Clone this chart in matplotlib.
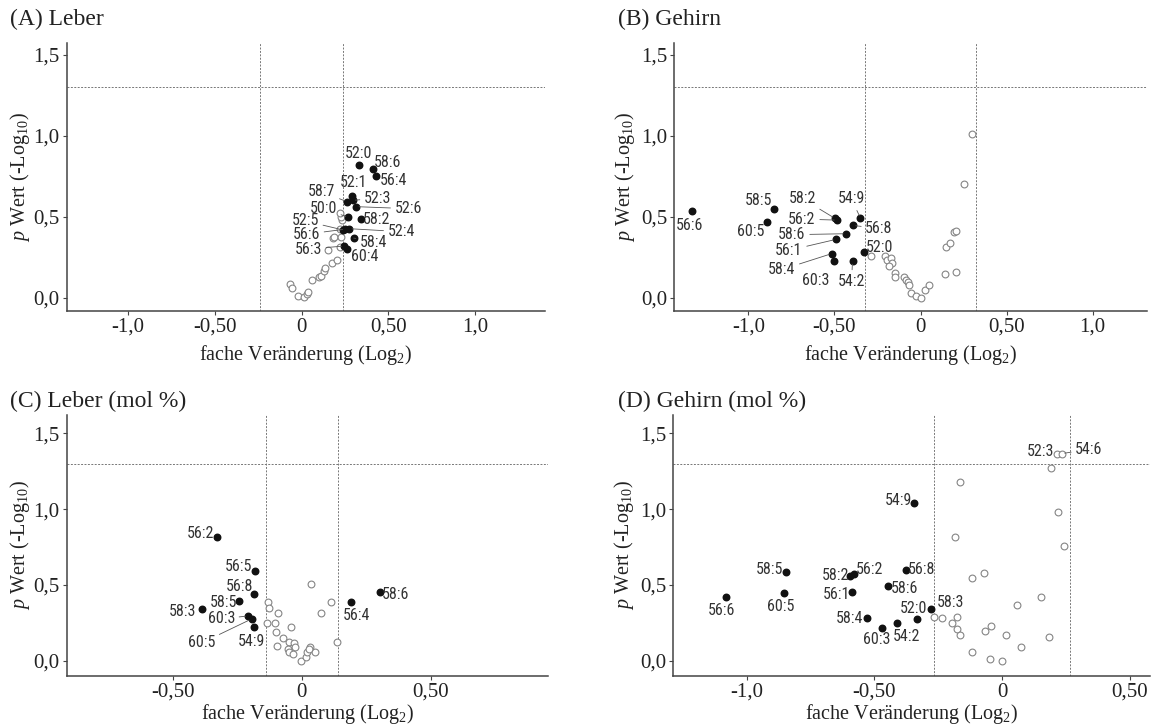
import matplotlib
matplotlib.use('Agg')
from matplotlib import pyplot as plt
from matplotlib import font_manager

# panel A: Leber
names_a = ['52:0', '58:6', '56:4', '52:1', '58:7', '52:3', '52:6', '50:0',
           '58:2', '52:5', '52:4', '56:6', '58:4', '56:3', '60:4']
fc_a = [0.332, 0.409, 0.426, 0.292, 0.260, 0.294, 0.315, 0.269,
        0.342, 0.240, 0.275, 0.252, 0.300, 0.246, 0.263]
p_a = [0.823, 0.796, 0.753, 0.628, 0.595, 0.603, 0.564, 0.498,
       0.486, 0.420, 0.428, 0.425, 0.370, 0.321, 0.305]
fc_a_ns = [-0.064, -0.053, -0.022, 0.014, 0.030, 0.037, 0.062, 0.099, 0.110, 0.128, 0.133,
           0.175, 0.204, 0.152, 0.223, 0.179, 0.187, 0.225, 0.221, 0.233, 0.225, 0.219]
p_a_ns = [0.086, 0.060, 0.012, 0.008, 0.025, 0.035, 0.109, 0.130, 0.138, 0.165, 0.183,
          0.218, 0.233, 0.294, 0.313, 0.368, 0.375, 0.375, 0.424, 0.481, 0.498, 0.523]

# panel B: Gehirn
names_b = ['56:6', '58:5', '60:5', '58:2', '56:2', '54:9', '56:8', '58:6',
           '56:1', '52:0', '58:4', '60:3', '54:2']
fc_b = [-1.326, -0.853, -0.892, -0.496, -0.485, -0.349, -0.392, -0.433,
        -0.491, -0.331, -0.516, -0.502, -0.395]
p_b = [0.537, 0.552, 0.472, 0.491, 0.481, 0.494, 0.448, 0.397,
       0.362, 0.284, 0.274, 0.230, 0.226]
fc_b_ns = [-0.289, -0.208, -0.197, -0.174, -0.167, -0.183, -0.149, -0.148, -0.095,
           -0.087, -0.070, -0.068, -0.056, -0.025, 0.003, 0.029, 0.048, 0.141, 0.205,
           0.151, 0.170, 0.194, 0.207, 0.253, 0.300]
p_b_ns = [0.257, 0.257, 0.237, 0.247, 0.217, 0.196, 0.155, 0.131, 0.128,
          0.114, 0.100, 0.079, 0.032, 0.011, 0.001, 0.048, 0.079, 0.151, 0.163,
          0.313, 0.340, 0.405, 0.415, 0.705, 1.010]

# panel C: Leber (mol %)
names_c = ['56:2', '56:5', '56:8', '58:5', '58:3', '60:3', '60:5', '54:9', '56:4', '58:6']
fc_c = [-0.327, -0.181, -0.185, -0.242, -0.388, -0.207, -0.194, -0.185, 0.191, 0.303]
p_c = [0.814, 0.592, 0.443, 0.393, 0.340, 0.296, 0.276, 0.222, 0.386, 0.452]
fc_c_ns = [0.035, 0.114, 0.076, 0.136, -0.132, -0.128, -0.092, -0.134, -0.105, -0.041,
           -0.100, -0.071, -0.050, -0.029, -0.025, -0.097, -0.052, -0.048, -0.034,
           -0.003, 0.015, 0.022, 0.032, 0.052, 0.027]
p_c_ns = [0.507, 0.390, 0.314, 0.127, 0.386, 0.347, 0.316, 0.248, 0.248, 0.224,
          0.191, 0.153, 0.127, 0.120, 0.094, 0.097, 0.077, 0.055, 0.046,
          0.002, 0.028, 0.057, 0.088, 0.057, 0.077]

# panel D: Gehirn (mol %)
names_d = ['56:6', '58:5', '60:5', '58:2', '56:2', '56:1', '58:4', '60:3', '54:2',
           '52:0', '58:3', '58:6', '56:8', '54:9']
fc_d = [-1.081, -0.846, -0.856, -0.594, -0.579, -0.588, -0.529, -0.471, -0.411,
        -0.333, -0.280, -0.447, -0.378, -0.343]
p_d = [0.423, 0.588, 0.447, 0.561, 0.570, 0.452, 0.283, 0.217, 0.246,
       0.278, 0.342, 0.493, 0.599, 1.041]
fc_d_ns = [-0.265, -0.234, -0.177, -0.196, -0.175, -0.164, -0.118, -0.046, -0.067,
           -0.043, -0.118, -0.072, -0.186, -0.164, 0.000, 0.192, 0.218, 0.244,
           0.017, 0.076, 0.059, 0.151, 0.185]
p_d_ns = [0.287, 0.285, 0.292, 0.248, 0.211, 0.171, 0.055, 0.015, 0.199,
          0.230, 0.544, 0.581, 0.814, 1.180, 0.000, 1.272, 0.982, 0.759,
          0.167, 0.090, 0.368, 0.421, 0.156]
names_d_open = ['52:3', '54:6']
fc_d_open = [0.214, 0.235]
p_d_open = [1.366, 1.366]

x_ticks_ab = [-1.0, -0.5, 0, 0.5, 1.0]
x_labels_ab = ['-1,0', '-0,50', '0', '0,50', '1,0']
x_ticks_c = [-0.5, 0, 0.5]
x_labels_c = ['-0,50', '0', '0,50']
x_ticks_d = [-1.0, -0.5, 0, 0.5]
x_labels_d = ['-1,0', '-0,50', '0', '0,50']
y_ticks = [0, 0.5, 1.0, 1.5]
y_labels = ['0,0', '0,5', '1,0', '1,5']

# label offsets in pixels (dx, dy) and whether a leader line is drawn
offs_a = {'52:0': (-1, 11, 0), '58:6': (15, 7, 0), '56:4': (18, -4, 0), '52:1': (1, 14, 0),
          '58:7': (-25, 10, 1), '52:3': (25, 2, 1), '52:6': (52, -2, 1), '50:0': (-25, 9, 1),
          '58:2': (16, 0, 0), '52:5': (-38, 9, 1), '52:4': (52, -3, 1), '56:6': (-39, -5, 1),
          '58:4': (20, -4, 1), '56:3': (-36, -3, 1), '60:4': (17, -8, 0)}
offs_b = {'56:6': (-3, -14, 0), '58:5': (-15, 8, 0), '60:5': (-16, -10, 0), '58:2': (-33, 20, 1),
          '54:9': (-9, 19, 1), '56:2': (-35, 1, 1), '56:8': (26, -3, 1), '58:6': (-54, -1, 1),
          '56:1': (-47, -11, 1), '52:0': (16, 5, 0), '58:4': (-50, -16, 1), '60:3': (-18, -20, 0),
          '54:2': (-1, -20, 1)}
offs_c = {'56:2': (-17, 4, 0), '56:5': (-16, 4, 0), '56:8': (-14, 7, 0), '58:5': (-16, -1, 0),
          '58:3': (-19, -2, 0), '60:3': (-27, -3, 1), '60:5': (-50, -24, 1), '54:9': (-2, -14, 0),
          '56:4': (6, -13, 0), '58:6': (16, -2, 0)}
offs_d = {'56:6': (-5, -14, 0), '58:5': (-17, 2, 0), '60:5': (-3, -14, 0), '58:2': (-15, 0, 0),
          '56:2': (15, 5, 0), '56:1': (-15, -2, 0), '58:4': (-17, -1, 0), '60:3': (-5, -12, 0),
          '54:2': (9, -13, 0), '52:0': (-3, 10, 0), '58:3': (20, 6, 0), '58:6': (17, -2, 0),
          '56:8': (16, 0, 0), '54:9': (-16, 2, 0), '52:3': (-16, 2, 0), '54:6': (27, 4, 1)}

# look for a narrow sans font for the point labels
LABEL_SIZE = 11.5
narrow_fp = None
prefs = ['Liberation Sans Narrow', 'Arial Narrow', 'Roboto Condensed', 'DejaVu Sans Condensed',
         'Open Sans Condensed', 'Noto Sans Condensed']
fonts = font_manager.fontManager.ttflist
for pref in prefs:
    for f in fonts:
        if f.name == pref and f.style == 'normal' and f.weight in (400, 'normal', 'regular'):
            narrow_fp = font_manager.FontProperties(fname=f.fname, size=LABEL_SIZE)
            break
    if narrow_fp:
        break
if narrow_fp is None:
    for f in fonts:
        st = str(f.stretch)
        if ('ondensed' in st or 'arrow' in f.name or 'ondensed' in f.fname) and f.style == 'normal' \
                and f.weight in (400, 'normal', 'regular') and 'Mono' not in f.name and 'Serif' not in f.name:
            narrow_fp = font_manager.FontProperties(fname=f.fname, size=LABEL_SIZE)
            break
if narrow_fp is None:
    narrow_fp = font_manager.FontProperties(family='Liberation Sans', size=10)

serif = 'Liberation Serif'
plt.rcParams['font.family'] = serif
plt.rcParams['mathtext.fontset'] = 'custom'
plt.rcParams['mathtext.rm'] = serif
plt.rcParams['mathtext.it'] = serif + ':italic'

W, H = 1156, 727
fig = plt.figure(figsize=(W / 100, H / 100), dpi=100)


def make_axes(l, t, r, b):
    return fig.add_axes([l / W, 1 - b / H, (r - l) / W, (b - t) / H])


def label_points(ax, lab, fc, p, offs):
    for n, x, y in zip(lab, fc, p):
        dx, dy, line = offs[n]
        ap = dict(arrowstyle='-', color='#555555', lw=0.6, shrinkA=1, shrinkB=2) if line else None
        ax.annotate(n, (x, y), xytext=(dx, dy), textcoords='offset pixels', ha='center',
                    va='center', fontproperties=narrow_fp, color='#333333',
                    arrowprops=ap, zorder=4)


def panel(ax, fc_ns, p_ns, fc, p, lab, offs, thr, xlim, ylim, xt, xtl, title, tpos, lab_xy):
    ax.set_xlim(*xlim)
    ax.set_ylim(*ylim)
    for v in (-thr, thr):
        ax.axvline(v, color='#777777', lw=0.7, ls=(0, (2, 1.5)), zorder=1)
    ax.axhline(1.3, color='#777777', lw=0.7, ls=(0, (2, 1.5)), zorder=1)
    ax.scatter(fc_ns, p_ns, s=24, facecolors='white', edgecolors='#858585', linewidths=0.8, zorder=2)
    ax.scatter(fc, p, s=22, color='#111111', zorder=3)
    label_points(ax, lab, fc, p, offs)
    for s in ('top', 'right'):
        ax.spines[s].set_visible(False)
    for s in ('left', 'bottom'):
        ax.spines[s].set_color('#444444')
        ax.spines[s].set_linewidth(1.1)
    ax.set_xticks(xt)
    ax.set_xticklabels(xtl)
    ax.set_yticks(y_ticks)
    ax.set_yticklabels(y_labels)
    ax.tick_params(length=3, width=0.8, color='#444444', labelsize=15, labelcolor='#222222', pad=2)
    ax.set_xlabel('fache Veränderung (Log$_2$)', fontsize=14.5, color='#222222')
    ax.set_ylabel('$\\it{p}$ Wert (-Log$_{10}$)', fontsize=14.5, color='#222222')
    ax.xaxis.set_label_coords(0.5, lab_xy[1])
    ax.yaxis.set_label_coords(lab_xy[0], 0.5)
    fig.text(tpos[0] / W, 1 - tpos[1] / H, title, fontsize=17, color='#222222', ha='left', va='center')


ax_a = make_axes(66.7, 43, 545, 311)
panel(ax_a, fc_a_ns, p_a_ns, fc_a, p_a, names_a, offs_a, 0.24, (-1.35, 1.40), (-0.08, 1.574),
      x_ticks_ab, x_labels_ab, '(A) Leber', (10, 19), (-0.072, -0.12))

ax_b = make_axes(674, 43, 1146.7, 311)
panel(ax_b, fc_b_ns, p_b_ns, fc_b, p_b, names_b, offs_b, 0.32, (-1.432, 1.314), (-0.08, 1.574),
      x_ticks_ab, x_labels_ab, '(B) Gehirn', (618, 19), (-0.078, -0.12))

ax_c = make_axes(66.7, 415, 548, 676)
panel(ax_c, fc_c_ns, p_c_ns, fc_c, p_c, names_c, offs_c, 0.14, (-0.911, 0.955), (-0.1, 1.62),
      x_ticks_c, x_labels_c, '(C) Leber (mol %)', (10, 401), (-0.072, -0.098))

ax_d = make_axes(673.3, 415, 1150, 676)
panel(ax_d, fc_d_ns, p_d_ns, fc_d, p_d, names_d, offs_d, 0.265, (-1.288, 0.58), (-0.1, 1.62),
      x_ticks_d, x_labels_d, '(D) Gehirn (mol %)', (618, 401), (-0.078, -0.098))
ax_d.scatter(fc_d_open, p_d_open, s=24, facecolors='white', edgecolors='#858585', linewidths=0.8, zorder=2)
label_points(ax_d, names_d_open, fc_d_open, p_d_open, offs_d)

fig.savefig('out.png', dpi=100)
